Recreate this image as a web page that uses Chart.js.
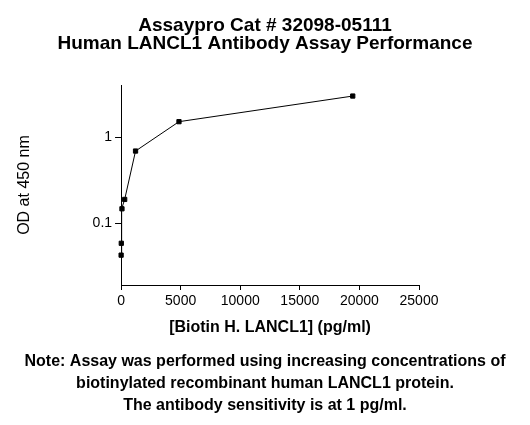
<!DOCTYPE html>
<html>
<head>
<meta charset="utf-8">
<script src="https://cdn.jsdelivr.net/npm/chart.js@4/dist/chart.umd.min.js"></script>
<style>
  html, body { margin: 0; padding: 0; background: #fff; }
  #wrap { width: 530px; height: 425px; position: relative; }
</style>
</head>
<body>
<div id="wrap"><canvas id="c"></canvas></div>
<script>
// ---- data ----
const concentrations = [4.75, 19, 76, 304, 1215, 4860, 19440];   // pg/ml
const odValues = [0.043, 0.059, 0.148, 0.19, 0.69, 1.51, 2.99];  // OD at 450 nm
const yTickValues = [0.1, 1];
const xTickStep = 5000;
const xMin = 0, xMax = 25000;
const yMin = 0.0194, yMax = 4.01;

const titleLines = ["Assaypro Cat # 32098-05111", "Human LANCL1 Antibody Assay Performance"];
const noteLines = [
  "Note: Assay was performed using increasing concentrations of",
  "biotinylated recombinant human LANCL1 protein.",
  "The antibody sensitivity is at 1 pg/ml."
];
const xAxisTitle = "[Biotin H. LANCL1] (pg/ml)";
const yAxisTitle = "OD at 450 nm";

Chart.defaults.font.family = "'Liberation Sans', Arial, sans-serif";
Chart.defaults.color = "#000";

const points = concentrations.map((x, i) => ({ x: x, y: odValues[i] }));

new Chart(document.getElementById('c'), {
  type: 'line',
  data: {
    datasets: [{
      data: points,
      borderColor: '#000',
      backgroundColor: '#000',
      borderWidth: 1,
      pointStyle: 'rect',
      pointRadius: 3,
      pointBorderWidth: 1,
      pointBackgroundColor: '#000',
      pointBorderColor: '#000',
      tension: 0,
      clip: false,
      xAxisID: 'x',
      yAxisID: 'y'
    }]
  },
  options: {
    responsive: true,
    maintainAspectRatio: false,
    animation: false,
    devicePixelRatio: 1,
    layout: { padding: { left: 0, right: 0, top: 0, bottom: 0 } },
    plugins: {
      legend: { display: false },
      tooltip: { enabled: false },
      title: {
        display: true,
        text: titleLines,
        color: '#000',
        font: { size: 19, weight: 'bold', lineHeight: 0.98 },
        padding: { top: 16, bottom: 31.8 }
      },
      subtitle: {
        display: true,
        position: 'bottom',
        text: noteLines,
        color: '#000',
        font: { size: 16, weight: 'bold', lineHeight: 1.375 },
        padding: { top: 14, bottom: 8 }
      }
    },
    scales: {
      x: {
        type: 'linear',
        min: xMin,
        max: xMax,
        grid: { display: true, drawOnChartArea: false, drawTicks: true, tickLength: 5, color: '#000', tickWidth: 1 },
        border: { display: true, color: '#000', width: 1 },
        ticks: {
          stepSize: xTickStep,
          padding: 3,
          color: '#000',
          font: { size: 14 },
          maxRotation: 0,
          callback: v => String(v)
        },
        title: {
          display: true,
          text: xAxisTitle,
          color: '#000',
          font: { size: 16, weight: 'bold', lineHeight: 1.2 },
          padding: { top: 5, bottom: 0 }
        }
      },
      y: {
        type: 'logarithmic',
        position: 'left',
        min: yMin,
        max: yMax,
        afterBuildTicks: scale => { scale.ticks = yTickValues.map(v => ({ value: v })); },
        grid: { display: true, drawOnChartArea: false, drawTicks: true, tickLength: 6, color: '#000', tickWidth: 1 },
        border: { display: true, color: '#000', width: 1 },
        ticks: {
          padding: 3,
          color: '#000',
          font: { size: 14 },
          callback: v => String(v)
        },
        title: {
          display: true,
          text: yAxisTitle,
          color: '#000',
          font: { size: 16, weight: 'normal', lineHeight: 1.2 },
          padding: { top: 15.4, bottom: 55 }
        }
      },
      spacer: {
        type: 'linear',
        position: 'right',
        min: 0,
        max: 1,
        grid: { display: false, drawTicks: false, drawOnChartArea: false },
        border: { display: false },
        ticks: { display: false },
        title: {
          display: true,
          text: ' ',
          font: { size: 1, lineHeight: 1 },
          padding: { top: 110, bottom: 0 }
        }
      }
    }
  }
});
</script>
</body>
</html>
